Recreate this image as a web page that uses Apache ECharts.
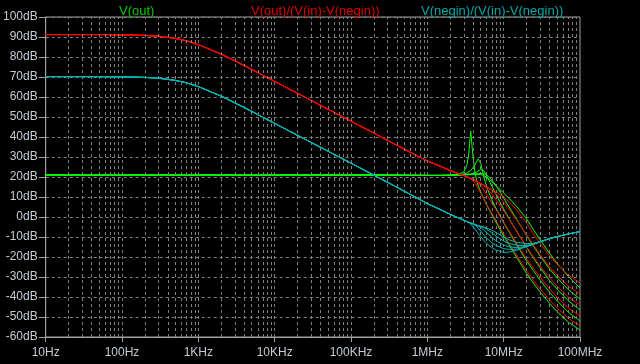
<!DOCTYPE html>
<html>
<head>
<meta charset="utf-8">
<script src="https://cdn.jsdelivr.net/npm/echarts@6/dist/echarts.min.js"></script>
<style>
html,body{margin:0;padding:0;background:#000;}
#c{width:640px;height:364px;}
</style>
</head>
<body>
<div id="c"></div>
<script>
// ---- data (dB values) ----
const traceNames = ['V(out)', 'V(out)/(V(in)-V(negin))', 'V(negin)/(V(in)-V(negin))'];
const xTickLabels = ['10Hz','100Hz','1KHz','10KHz','100KHz','1MHz','10MHz','100MHz'];

const freqLow  = [10, 20, 50, 100, 200, 300, 500, 700, 1e3, 2e3, 3e3, 5e3, 1e4, 2e4, 5e4, 1e5, 2e5, 5e5];
const redLow   = [91.2, 91.2, 91.2, 91.1, 90.8, 90.4, 89.3, 88.1, 86.2, 81.4, 78.1, 73.8, 67.8, 61.8, 53.9, 47.9, 41.9, 33.9];
const cyanLow  = [70.2, 70.2, 70.2, 70.1, 69.8, 69.4, 68.3, 67.1, 65.2, 60.4, 57.1, 52.8, 46.8, 40.8, 32.9, 26.9, 20.9, 12.9];
const greenLow = [21.0, 21.0, 21.0, 21.0, 21.0, 21.0, 21.0, 21.0, 21.0, 21.0, 21.0, 21.0, 21.0, 21.0, 21.0, 21.0, 21.0, 20.9];

const freqHigh = [1e6, 1.5e6, 2e6, 2.5e6, 3e6, 3.3e6, 3.5e6, 3.7e6, 3.9e6, 4.2e6, 4.6e6, 5e6, 5.5e6, 6e6, 7e6, 8e6, 1e7, 1.2e7, 1.5e7, 2e7, 2.5e7, 3e7, 4e7, 5e7, 7e7, 1e8];

const redRun1 = [28.0,25.3,23.2,21.8,20.7,20.1,19.7,19.2,18.6,17.0,14.5,12.0,9.0,6.3,1.8,-2.0,-8.5,-13.5,-19.5,-27.0,-32.0,-36.0,-41.5,-45.5,-50.5,-54.5];
const redRun2 = [28.0,25.3,23.2,21.8,20.7,20.1,19.7,19.3,18.9,18.3,17.2,15.8,13.5,11.2,7.0,3.5,-2.5,-7.5,-13.5,-21.0,-26.0,-30.0,-36.0,-40.0,-45.5,-49.5];
const redRun3 = [28.0,25.3,23.2,21.8,20.7,20.1,19.7,19.3,18.9,18.3,17.5,16.7,15.6,14.4,11.5,8.5,3.2,-1.5,-7.5,-15.0,-20.5,-24.5,-30.5,-34.5,-40.0,-44.0];
const redRun4 = [28.0,25.3,23.2,21.8,20.7,20.1,19.7,19.3,18.9,18.3,17.5,16.7,15.9,15.1,13.3,11.5,7.5,3.5,-1.8,-9.0,-14.5,-18.8,-25.0,-29.0,-34.5,-38.5];
const redRun5 = [28.0,25.3,23.2,21.8,20.7,20.1,19.7,19.3,18.9,18.3,17.5,16.7,15.9,15.1,13.7,12.4,10.0,7.3,3.3,-3.0,-8.8,-13.2,-19.5,-23.5,-29.0,-33.0];

const greenRun1 = [20.8,20.8,20.9,21.3,22.5,26.0,32.0,43.0,33.0,22.0,16.0,12.5,9.0,6.0,1.2,-2.8,-9.5,-14.5,-20.5,-28.3,-33.5,-37.5,-43.2,-47.3,-52.5,-56.5];
const greenRun2 = [20.8,20.8,20.9,21.1,21.5,22.0,22.5,23.2,24.2,26.0,29.0,27.0,20.0,15.0,8.5,4.0,-2.8,-8.0,-14.3,-22.0,-27.3,-31.5,-37.7,-41.8,-47.5,-52.0];
const greenRun3 = [20.8,20.8,20.9,21.0,21.2,21.3,21.4,21.5,21.6,22.0,22.8,23.8,23.0,20.5,15.5,11.0,4.0,-1.3,-7.5,-15.3,-21.0,-25.3,-31.8,-36.0,-41.8,-46.5];
const greenRun4 = [20.8,20.8,20.9,21.0,21.1,21.2,21.3,21.4,21.5,21.6,21.6,21.8,21.7,21.0,18.5,15.5,9.5,4.5,-1.5,-9.3,-15.0,-19.5,-26.0,-30.3,-36.2,-41.0];
const greenRun5 = [20.8,20.8,20.9,21.0,21.0,21.1,21.1,21.2,21.2,21.2,21.2,21.2,20.8,19.8,17.6,15.6,12.0,9.0,5.0,-1.0,-6.8,-11.3,-18.2,-23.2,-29.6,-35.5];

const cyanRun1 = [6.7,3.6,1.3,-0.3,-1.6,-2.3,-2.8,-3.5,-4.5,-6.0,-8.0,-9.8,-11.8,-13.3,-15.3,-16.6,-17.7,-17.5,-16.5,-14.8,-13.5,-12.4,-10.8,-9.8,-8.5,-7.3];
const cyanRun2 = [6.7,3.6,1.3,-0.3,-1.6,-2.3,-2.7,-3.0,-3.4,-4.0,-5.3,-7.0,-9.0,-10.6,-12.8,-14.3,-15.8,-16.3,-16.0,-14.8,-13.5,-12.4,-10.8,-9.8,-8.5,-7.3];
const cyanRun3 = [6.7,3.6,1.3,-0.3,-1.6,-2.3,-2.7,-3.0,-3.3,-3.8,-4.5,-5.2,-6.5,-7.8,-10.2,-12.0,-14.0,-15.0,-15.3,-14.6,-13.5,-12.4,-10.8,-9.8,-8.5,-7.3];
const cyanRun4 = [6.7,3.6,1.3,-0.3,-1.6,-2.3,-2.7,-3.0,-3.3,-3.7,-4.3,-4.8,-5.3,-6.0,-7.8,-9.6,-12.0,-13.3,-14.2,-14.2,-13.4,-12.4,-10.8,-9.8,-8.5,-7.3];
const cyanRun5 = [6.7,3.6,1.3,-0.3,-1.6,-2.3,-2.7,-3.0,-3.3,-3.7,-4.2,-4.6,-5.0,-5.5,-6.6,-7.8,-10.0,-11.5,-12.7,-13.3,-13.1,-12.4,-10.8,-9.8,-8.5,-7.3];

const redRuns = [redRun1, redRun2, redRun3, redRun4, redRun5];
const greenRuns = [greenRun1, greenRun2, greenRun3, greenRun4, greenRun5];
const cyanRuns = [cyanRun1, cyanRun2, cyanRun3, cyanRun4, cyanRun5];

// ---- styling ----
const GRID_COLOR = '#808080';
const FRAME_COLOR = '#a0a0a0';
const LABEL_COLOR = '#c4ccd4';
const FONT = '"Liberation Sans", Arial, sans-serif';
const TRACE_COLORS = ['#00ff00', '#ff0000', '#00b4b4'];
const TITLE_COLORS = ['#00cc00', '#dd0000', '#00a8a8'];

function join(lowF, lowV, highF, highV) {
  const out = lowF.map((f, i) => [f, lowV[i]]);
  return out.concat(highF.map((f, i) => [f, highV[i]]));
}

// vertical grid positions (1..9 per decade)
const vLines = [];
for (let d = 10; d < 1e8; d *= 10) {
  for (let m = 1; m <= 9; m++) {
    const f = d * m;
    if (f > 10 && f < 1e8) vLines.push(f);
  }
}

const series = [];
series.push({
  type: 'line', data: [[10, -60], [1e8, -60]], silent: true, z: 1,
  lineStyle: { opacity: 0 }, showSymbol: false,
  markLine: {
    silent: true, symbol: ['none', 'none'], label: { show: false },
    lineStyle: { type: [3, 3], color: GRID_COLOR, width: 1 },
    data: vLines.map(f => ({ xAxis: f }))
  }
});

function addTrace(name, data, color, z) {
  series.push({
    name: name, type: 'line', data: data, showSymbol: false, z: z,
    lineStyle: { color: color, width: 1 }, itemStyle: { color: color },
    emphasis: { disabled: true }, silent: true
  });
}
for (let k = 0; k < 5; k++) addTrace(traceNames[0], join(freqLow, greenLow, freqHigh, greenRuns[k]), TRACE_COLORS[0], 3);
for (let k = 0; k < 5; k++) addTrace(traceNames[1], join(freqLow, redLow, freqHigh, redRuns[k]), TRACE_COLORS[1], 4);
for (let k = 0; k < 5; k++) addTrace(traceNames[2], join(freqLow, cyanLow, freqHigh, cyanRuns[k]), TRACE_COLORS[2], 5);

const chart = echarts.init(document.getElementById('c'), null, { renderer: 'canvas' });
chart.setOption({
  backgroundColor: '#000',
  animation: false,
  title: [
    { text: traceNames[0], left: 114, top: 0, textStyle: { color: TITLE_COLORS[0], fontSize: 13, fontWeight: 'normal', fontFamily: FONT } },
    { text: traceNames[1], left: 246, top: 0, textStyle: { color: TITLE_COLORS[1], fontSize: 13, fontWeight: 'normal', fontFamily: FONT } },
    { text: traceNames[2], left: 416, top: 0, textStyle: { color: TITLE_COLORS[2], fontSize: 13, fontWeight: 'normal', fontFamily: FONT } }
  ],
  grid: { left: 45, top: 17, width: 535, height: 320, show: true, borderColor: FRAME_COLOR, borderWidth: 1, backgroundColor: '#000' },
  xAxis: {
    type: 'log', logBase: 10, min: 10, max: 1e8,
    axisLine: { show: true, onZero: false, lineStyle: { color: FRAME_COLOR } },
    axisTick: { show: true, length: 5, lineStyle: { color: FRAME_COLOR } },
    axisLabel: { color: LABEL_COLOR, fontSize: 12, fontFamily: FONT, margin: 10,
      formatter: v => xTickLabels[Math.round(Math.log10(v)) - 1] },
    splitLine: { show: false }
  },
  yAxis: {
    type: 'value', min: -60, max: 100, interval: 10,
    axisLine: { show: true, onZero: false, lineStyle: { color: FRAME_COLOR } },
    axisTick: { show: true, length: 7, lineStyle: { color: FRAME_COLOR } },
    axisLabel: { color: LABEL_COLOR, fontSize: 12, fontFamily: FONT, margin: 8, formatter: v => v + 'dB' },
    splitLine: { show: true, lineStyle: { type: [3, 3], color: GRID_COLOR, width: 1 } }
  },
  series: series
});
</script>
</body>
</html>
